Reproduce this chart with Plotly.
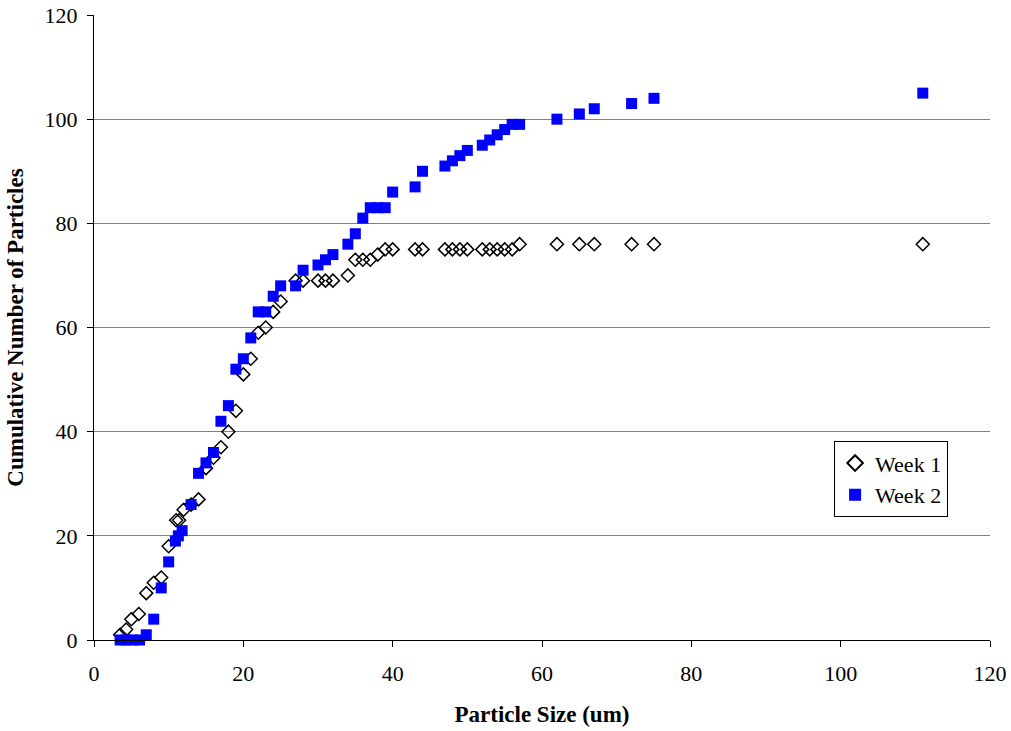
import plotly.graph_objects as go

# Week 1 data (particle size um, cumulative count)
week1_x = [3.5, 4.3, 5, 6, 7, 8, 9, 10, 11, 11.4, 12, 13, 14, 15, 16, 17, 18, 19, 20, 21,
           22, 23, 24, 25, 27, 28, 30, 31, 32, 34, 35, 36, 37, 38, 39, 40, 43, 44, 47, 48,
           49, 50, 52, 53, 54, 55, 56, 57, 62, 65, 67, 72, 75, 111]
week1_y = [1, 2, 4, 5, 9, 11, 12, 18, 23, 23, 25, 26, 27, 33, 35, 37, 40, 44, 51, 54,
           59, 60, 63, 65, 69, 69, 69, 69, 69, 70, 73, 73, 73, 74, 75, 75, 75, 75, 75, 75,
           75, 75, 75, 75, 75, 75, 75, 76, 76, 76, 76, 76, 76, 76]

# Week 2 data
week2_x = [3.5, 4.3, 5.2, 6.1, 7, 8, 9, 10, 10.9, 11.3, 11.8, 13, 14, 15, 16, 17, 18, 19, 20,
           21, 22, 23, 24, 25, 27, 28, 30, 31, 32, 34, 35, 36, 37, 38, 39, 40, 43, 44, 47,
           48, 49, 50, 52, 53, 54, 55, 56, 57, 62, 65, 67, 72, 75, 111]
week2_y = [0, 0, 0, 0, 1, 4, 10, 15, 19, 20, 21, 26, 32, 34, 36, 42, 45, 52, 54,
           58, 63, 63, 66, 68, 68, 71, 72, 73, 74, 76, 78, 81, 83, 83, 83, 86, 87, 90, 91,
           92, 93, 94, 95, 96, 97, 98, 99, 99, 100, 101, 102, 103, 104, 105]

font_family = "Liberation Serif, Times New Roman, serif"

fig = go.Figure()
fig.add_trace(go.Scatter(
    x=week1_x, y=week1_y, mode="markers", name="Week 1",
    marker=dict(symbol="diamond-open", size=10, color="black", line=dict(width=1.5, color="black")),
    cliponaxis=False,
))
fig.add_trace(go.Scatter(
    x=week2_x, y=week2_y, mode="markers", name="Week 2",
    marker=dict(symbol="square", size=11, color="#0000FF"),
    cliponaxis=False,
))

fig.update_layout(
    width=1011, height=731,
    margin=dict(l=94, r=21, t=15, b=91),
    paper_bgcolor="white", plot_bgcolor="white",
    font=dict(family=font_family, size=22, color="black"),
    showlegend=True,
    legend=dict(
        x=0.826, y=0.318, xanchor="left", yanchor="top",
        bgcolor="white", bordercolor="black", borderwidth=1,
        font=dict(family=font_family, size=22, color="black"),
        itemsizing="constant", tracegroupgap=0,
    ),
    xaxis=dict(
        range=[0, 120], dtick=20, tick0=0,
        showgrid=False, zeroline=False, automargin=False,
        showline=True, linecolor="black", linewidth=1,
        ticks="outside", ticklen=6, tickcolor="black", ticklabelstandoff=8,
        tickfont=dict(family=font_family, size=22),
        title=dict(text="<b>Particle Size (um)</b>", font=dict(family=font_family, size=23), standoff=20),
    ),
    yaxis=dict(
        range=[0, 120], dtick=20, tick0=0,
        showgrid=True, gridcolor="#808080", gridwidth=1, zeroline=False, automargin=False,
        showline=True, linecolor="black", linewidth=1,
        ticks="outside", ticklen=6, tickcolor="black", ticklabelstandoff=5,
        tickfont=dict(family=font_family, size=22),
        title=dict(text="<b>Cumulative Number of Particles</b>", font=dict(family=font_family, size=23), standoff=14),
    ),
)

fig.write_html("out.html", config={"displayModeBar": False},
               post_script="document.body.style.margin='0';")
